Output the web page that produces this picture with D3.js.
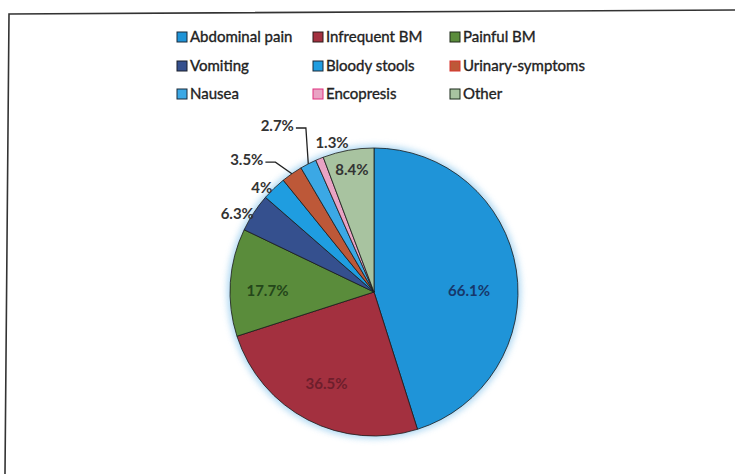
<!DOCTYPE html>
<html>
<head>
<meta charset="utf-8">
<script src="https://cdn.jsdelivr.net/npm/d3@7"></script>
<style>
  html, body { margin: 0; padding: 0; background: #fff; }
  svg { display: block; }
  text { font-family: Lato, "Open Sans", sans-serif; }
</style>
</head>
<body>
<svg id="chart" width="735" height="474"></svg>
<script>
// Presenting symptoms (% of patients; multiple answers allowed)
const categories = ["Abdominal pain", "Infrequent BM", "Painful BM", "Vomiting",
                    "Bloody stools", "Urinary-symptoms", "Nausea", "Encopresis", "Other"];
const values = [66.1, 36.5, 17.7, 6.3, 4, 3.5, 2.7, 1.3, 8.4];
const valueLabels = ["66.1%", "36.5%", "17.7%", "6.3%", "4%", "3.5%", "2.7%", "1.3%", "8.4%"];

const colors = ["#1f94d8", "#a3303f", "#5a8c3b", "#35508e", "#1f9de0",
                "#bd5838", "#3ba8e5", "#e9a3c4", "#a8c3a0"];
const borderColors = ["#1a2a3a", "#2a1a1a", "#1f2a1a", "#1a1f2a", "#1a2a3a",
                      "#d8332c", "#1a2a3a", "#e0307e", "#1a2a1a"];
const labelColors = ["#17386b", "#6e1e2c", "#24461a", "#333", "#333", "#333", "#333", "#333", "#333"];

// label placement: radius as fraction of pie radius, angular nudge (deg), leader line
const labelK = [0.66, 0.72, 0.74, 1.095, 1.066, 1.26, 1.325, 1.075, 0.86];
const labelNudge = [8, 0, -3, -3.5, -3, -8.6, -2.4, 6.5, 0];
const hasLeader = [false, false, false, false, false, true, true, false, false];

const svg = d3.select("#chart");

// scanned page frame
svg.append("path")
  .attr("d", "M5,474 L9,14 L735,10")
  .attr("fill", "none").attr("stroke", "#333").attr("stroke-width", 1.6);

// legend
const legendX = [177, 313, 450];
const legendY = [37, 66, 94];
const legend = svg.append("g");
categories.forEach((c, i) => {
  const col = i % 3, row = Math.floor(i / 3);
  const g = legend.append("g").attr("transform", `translate(${legendX[col]},${legendY[row]})`);
  g.append("rect").attr("x", 0).attr("y", -5).attr("width", 10).attr("height", 10)
    .attr("fill", colors[i]).attr("stroke", borderColors[i]).attr("stroke-width", 1);
  g.append("text").attr("x", 13).attr("y", 0).attr("dy", "0.35em")
    .attr("font-size", 15).attr("fill", "#222")
    .attr("stroke", "#222").attr("stroke-width", 0.35)
    .text(c);
});

// pie
const cx = 374, cy = 292, R = 144;
const defs = svg.append("defs");
defs.append("filter").attr("id", "glow").attr("x", "-20%").attr("y", "-20%")
  .attr("width", "140%").attr("height", "140%")
  .append("feGaussianBlur").attr("stdDeviation", 3);

const data = categories.map((c, i) => ({ name: c, value: values[i], i }));
const pie = d3.pie().value(d => d.value).sort(null);
const arcs = pie(data);
const arc = d3.arc().innerRadius(0).outerRadius(R);

const g = svg.append("g").attr("transform", `translate(${cx},${cy})`);
g.append("circle").attr("r", R + 3).attr("fill", "#9fd0f0").attr("opacity", 0.8)
  .attr("filter", "url(#glow)");

g.selectAll("path.slice").data(arcs).join("path")
  .attr("class", "slice")
  .attr("d", arc)
  .attr("fill", d => colors[d.data.i])
  .attr("stroke", "#1a1a1a").attr("stroke-width", 0.8).attr("stroke-linejoin", "round");

// value labels
const deg = Math.PI / 180;
function polar(k, a) { return [Math.sin(a) * R * k, -Math.cos(a) * R * k]; }

arcs.forEach(d => {
  const i = d.data.i;
  const mid = (d.startAngle + d.endAngle) / 2;
  const [lx, ly] = polar(labelK[i], mid + labelNudge[i] * deg);
  const t = g.append("text")
    .attr("font-size", 15).attr("font-weight", 700)
    .attr("fill", labelColors[i]).attr("dy", "0.35em")
    .text(valueLabels[i]);
  if (hasLeader[i]) {
    const endX = lx + 14;
    t.attr("x", endX).attr("y", ly).attr("text-anchor", "end");
    const [ex, ey] = polar(1.0, mid);
    const pts = [[ex, ey], [endX + 12, ly + 2], [endX + 2, ly + 2]];
    g.append("path").attr("d", d3.line()(pts))
      .attr("fill", "none").attr("stroke", "#222").attr("stroke-width", 1.3);
  } else {
    t.attr("x", lx).attr("y", ly).attr("text-anchor", "middle");
  }
});
</script>
</body>
</html>
